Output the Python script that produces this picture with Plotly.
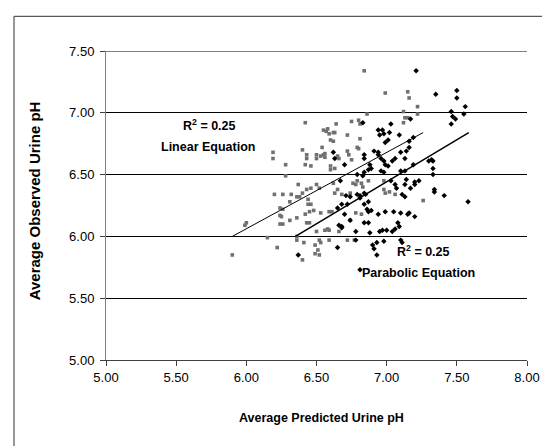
import plotly.graph_objects as go

# Linear-equation predictions (gray squares)
lin_x = [6.42, 6.40, 6.43, 6.43, 6.19, 6.19, 6.28, 6.42, 6.46, 6.50, 6.50, 6.28, 6.37, 6.20, 6.26, 6.32,
         6.36, 6.38, 6.40, 6.43, 6.46, 6.50, 6.24, 6.26, 6.31, 6.24, 6.25, 6.24, 6.26, 6.31, 6.36, 6.42,
         6.45, 6.48, 6.44, 6.46, 6.44, 6.43, 6.45, 6.50, 6.00, 5.99, 6.15, 6.36, 6.36, 6.22, 5.90, 6.41,
         6.49, 6.51, 6.49, 6.52, 6.40, 6.84, 6.99, 7.15, 7.16, 6.86, 7.12, 7.13, 7.15, 6.75, 6.80, 6.64,
         6.55, 6.57, 6.62, 6.63, 6.60, 6.62, 6.72, 6.81, 6.54, 6.55, 6.56, 6.65, 6.66, 6.72, 6.73, 6.79,
         6.80, 6.75, 6.60, 6.60, 6.63, 6.52, 6.62, 6.65, 6.76, 6.78, 6.79, 6.82, 6.83, 6.87, 6.63, 6.68,
         6.74, 6.53, 6.59, 6.61, 6.78, 6.82, 6.74, 6.98, 6.99, 7.02, 7.06, 6.98, 6.56, 6.58, 6.59, 6.66,
         6.59, 6.52, 6.53, 6.72, 6.77, 7.22, 7.22, 7.26, 6.81, 6.58, 6.59, 6.53, 6.56, 7.12]
lin_y = [6.92, 6.70, 6.66, 6.63, 6.68, 6.63, 6.58, 6.58, 6.57, 6.63, 6.66, 6.49, 6.42, 6.34, 6.34, 6.34,
         6.32, 6.32, 6.35, 6.38, 6.39, 6.42, 6.23, 6.22, 6.28, 6.17, 6.16, 6.10, 6.10, 6.13, 6.15, 6.18,
         6.20, 6.21, 6.26, 6.26, 6.30, 6.11, 6.11, 6.04, 6.11, 6.09, 5.99, 6.00, 5.97, 5.91, 5.85, 5.95,
         5.93, 5.89, 5.86, 5.85, 5.81, 7.34, 7.16, 7.17, 7.12, 6.99, 7.01, 6.96, 6.96, 6.93, 6.94, 6.91,
         6.86, 6.85, 6.84, 6.84, 6.78, 6.77, 6.82, 6.79, 6.72, 6.66, 6.64, 6.65, 6.63, 6.69, 6.66, 6.72,
         6.71, 6.62, 6.57, 6.54, 6.55, 6.39, 6.43, 6.38, 6.43, 6.42, 6.45, 6.43, 6.40, 6.45, 6.35, 6.34,
         6.35, 6.19, 6.20, 6.20, 6.19, 6.18, 6.13, 6.38, 6.35, 6.36, 6.34, 6.45, 6.05, 6.06, 6.05, 6.04,
         5.97, 5.97, 5.95, 5.97, 5.97, 7.05, 6.99, 6.29, 6.91, 6.87, 6.83, 6.65, 6.67, 6.92]

# Parabolic-equation predictions (black diamonds)
par_x = [6.37, 6.83, 6.94, 6.97, 6.95, 6.98, 7.02, 7.01, 6.99, 7.09, 7.03, 6.62, 6.63, 6.70, 6.84, 6.84,
         6.91, 6.94, 6.94, 6.96, 6.88, 6.89, 6.98, 6.99, 7.01, 7.10, 7.14, 6.84, 6.83, 6.79, 6.87, 6.96,
         6.98, 7.10, 7.13, 6.67, 6.84, 6.85, 7.06, 7.13, 7.14, 6.71, 6.74, 6.79, 6.81, 6.81, 6.87, 6.84,
         6.65, 6.68, 6.72, 6.86, 6.87, 6.89, 6.94, 6.99, 7.05, 7.15, 6.70, 6.74, 6.66, 6.68, 6.68, 6.84,
         6.87, 7.10, 6.78, 6.88, 6.95, 6.97, 7.00, 7.08, 7.09, 7.04, 7.06, 7.10, 7.11, 6.78, 6.65, 6.90,
         6.93, 6.91, 6.93, 6.98, 6.81, 7.21, 7.35, 7.50, 7.50, 7.46, 7.47, 7.49, 7.46, 7.56, 7.55, 7.17,
         7.16, 7.19, 7.16, 7.30, 7.32, 7.33, 7.33, 7.33, 7.19, 7.20, 7.20, 7.23, 7.17, 7.34, 7.34, 7.41,
         7.58, 7.16, 7.20, 7.06, 7.04, 7.13, 7.03, 7.07, 7.11, 7.13]
par_y = [5.85, 6.92, 6.86, 6.86, 6.82, 6.83, 6.84, 6.78, 6.76, 6.82, 6.91, 6.68, 6.63, 6.58, 6.66, 6.63,
         6.69, 6.68, 6.66, 6.63, 6.58, 6.55, 6.61, 6.58, 6.57, 6.68, 6.69, 6.52, 6.49, 6.50, 6.54, 6.53,
         6.52, 6.53, 6.53, 6.45, 6.35, 6.34, 6.42, 6.42, 6.46, 6.33, 6.32, 6.34, 6.33, 6.31, 6.28, 6.26,
         6.23, 6.26, 6.26, 6.22, 6.20, 6.21, 6.18, 6.20, 6.20, 6.18, 6.18, 6.13, 6.09, 6.08, 6.07, 6.11,
         6.11, 6.19, 6.04, 6.03, 6.04, 6.05, 6.05, 6.11, 6.08, 6.04, 6.06, 5.97, 5.95, 5.97, 5.91, 5.93,
         5.95, 5.90, 5.85, 5.96, 5.73, 7.34, 7.15, 7.18, 7.12, 7.01, 6.97, 6.95, 6.91, 7.05, 6.99, 6.95,
         6.77, 6.80, 6.72, 6.61, 6.62, 6.61, 6.55, 6.50, 6.58, 6.42, 6.44, 6.45, 6.39, 6.38, 6.36, 6.33,
         6.28, 6.19, 6.16, 6.63, 6.61, 6.63, 6.45, 6.39, 6.34, 6.32]

# Trend lines (end points)
lin_fit_x = [5.90, 7.26]
lin_fit_y = [6.00, 6.84]
par_fit_x = [6.35, 7.585]
par_fit_y = [6.00, 6.84]

x_ticks = [5.0, 5.5, 6.0, 6.5, 7.0, 7.5, 8.0]
y_ticks = [5.0, 5.5, 6.0, 6.5, 7.0, 7.5]

FONT = "Liberation Sans, Arial, sans-serif"

# plot-area geometry in pixels (used only to place text/frame)
L, R, T, B = 98, 519, 42.7, 351.7
def px(xp):
    return (xp - L) / (R - L)
def py(yp):
    return (B - yp) / (B - T)

fig = go.Figure()
fig.add_trace(go.Scatter(x=lin_x, y=lin_y, mode="markers",
                         marker=dict(symbol="square", size=3.6, color="#707070", line=dict(width=0)),
                         showlegend=False, hoverinfo="skip"))
fig.add_trace(go.Scatter(x=par_x, y=par_y, mode="markers",
                         marker=dict(symbol="diamond", size=4.2, color="#000000", line=dict(width=0)),
                         showlegend=False, hoverinfo="skip"))
fig.add_trace(go.Scatter(x=lin_fit_x, y=lin_fit_y, mode="lines",
                         line=dict(color="#000000", width=1), showlegend=False, hoverinfo="skip"))
fig.add_trace(go.Scatter(x=par_fit_x, y=par_fit_y, mode="lines",
                         line=dict(color="#000000", width=1.5), showlegend=False, hoverinfo="skip"))

fig.update_layout(
    width=550, height=446,
    margin=dict(l=98, r=31, t=43, b=94),
    paper_bgcolor="white", plot_bgcolor="white",
    font=dict(family=FONT, size=13, color="#000000"),
)
fig.update_xaxes(range=[5, 8], tickvals=x_ticks, ticktext=[f"{v:.2f}" for v in x_ticks],
                 showgrid=False, zeroline=False, showline=True, linecolor="#404040", linewidth=1,
                 ticks="outside", ticklen=5, tickcolor="#404040", tickwidth=1,
                 tickfont=dict(family=FONT, size=13))
fig.update_yaxes(range=[5, 7.5], tickvals=y_ticks, ticktext=[f"{v:.2f}" for v in y_ticks],
                 showgrid=True, gridcolor="#000000", gridwidth=1, zeroline=False,
                 showline=True, linecolor="#808080", linewidth=1,
                 ticks="outside", ticklen=5, tickcolor="#404040", tickwidth=1,
                 ticklabelstandoff=3, tickfont=dict(family=FONT, size=13))

# top gridline at 7.50
fig.add_shape(type="line", xref="paper", yref="y", x0=0, x1=1, y0=7.5, y1=7.5,
              line=dict(color="#000000", width=1))

# Chart-area frame (left and top edges visible)
fig.add_shape(type="rect", xref="paper", yref="paper",
              x0=px(6), x1=px(600), y0=py(500), y1=py(8),
              line=dict(color="#303030", width=1), fillcolor="rgba(0,0,0,0)", layer="below")

# Axis titles
fig.add_annotation(text="<b>Average Predicted Urine pH</b>", xref="paper", yref="paper",
                   x=px(313), y=py(410), showarrow=False,
                   xanchor="center", yanchor="middle", font=dict(family=FONT, size=12.5))
fig.add_annotation(text="<b>Average Observed Urine pH</b>", xref="paper", yref="paper",
                   x=px(26), y=py(193), showarrow=False, textangle=-90,
                   xanchor="center", yanchor="middle", font=dict(family=FONT, size=15))

# R² labels
lab_font = dict(family=FONT, size=12.5)
fig.add_annotation(text="<b>R<sup>2</sup> = 0.25</b>", xref="paper", yref="paper",
                   x=px(201), y=py(117), showarrow=False,
                   xanchor="center", yanchor="middle", font=lab_font)
fig.add_annotation(text="<b>Linear Equation</b>", xref="paper", yref="paper",
                   x=px(200), y=py(139), showarrow=False,
                   xanchor="center", yanchor="middle", font=lab_font)
fig.add_annotation(text="<b>R<sup>2</sup> = 0.25</b>", xref="paper", yref="paper",
                   x=px(415), y=py(243), showarrow=False,
                   xanchor="center", yanchor="middle", font=lab_font)
fig.add_annotation(text="<b>Parabolic Equation</b>", xref="paper", yref="paper",
                   x=px(410), y=py(265), showarrow=False,
                   xanchor="center", yanchor="middle", font=lab_font)

fig.write_html("out.html")
